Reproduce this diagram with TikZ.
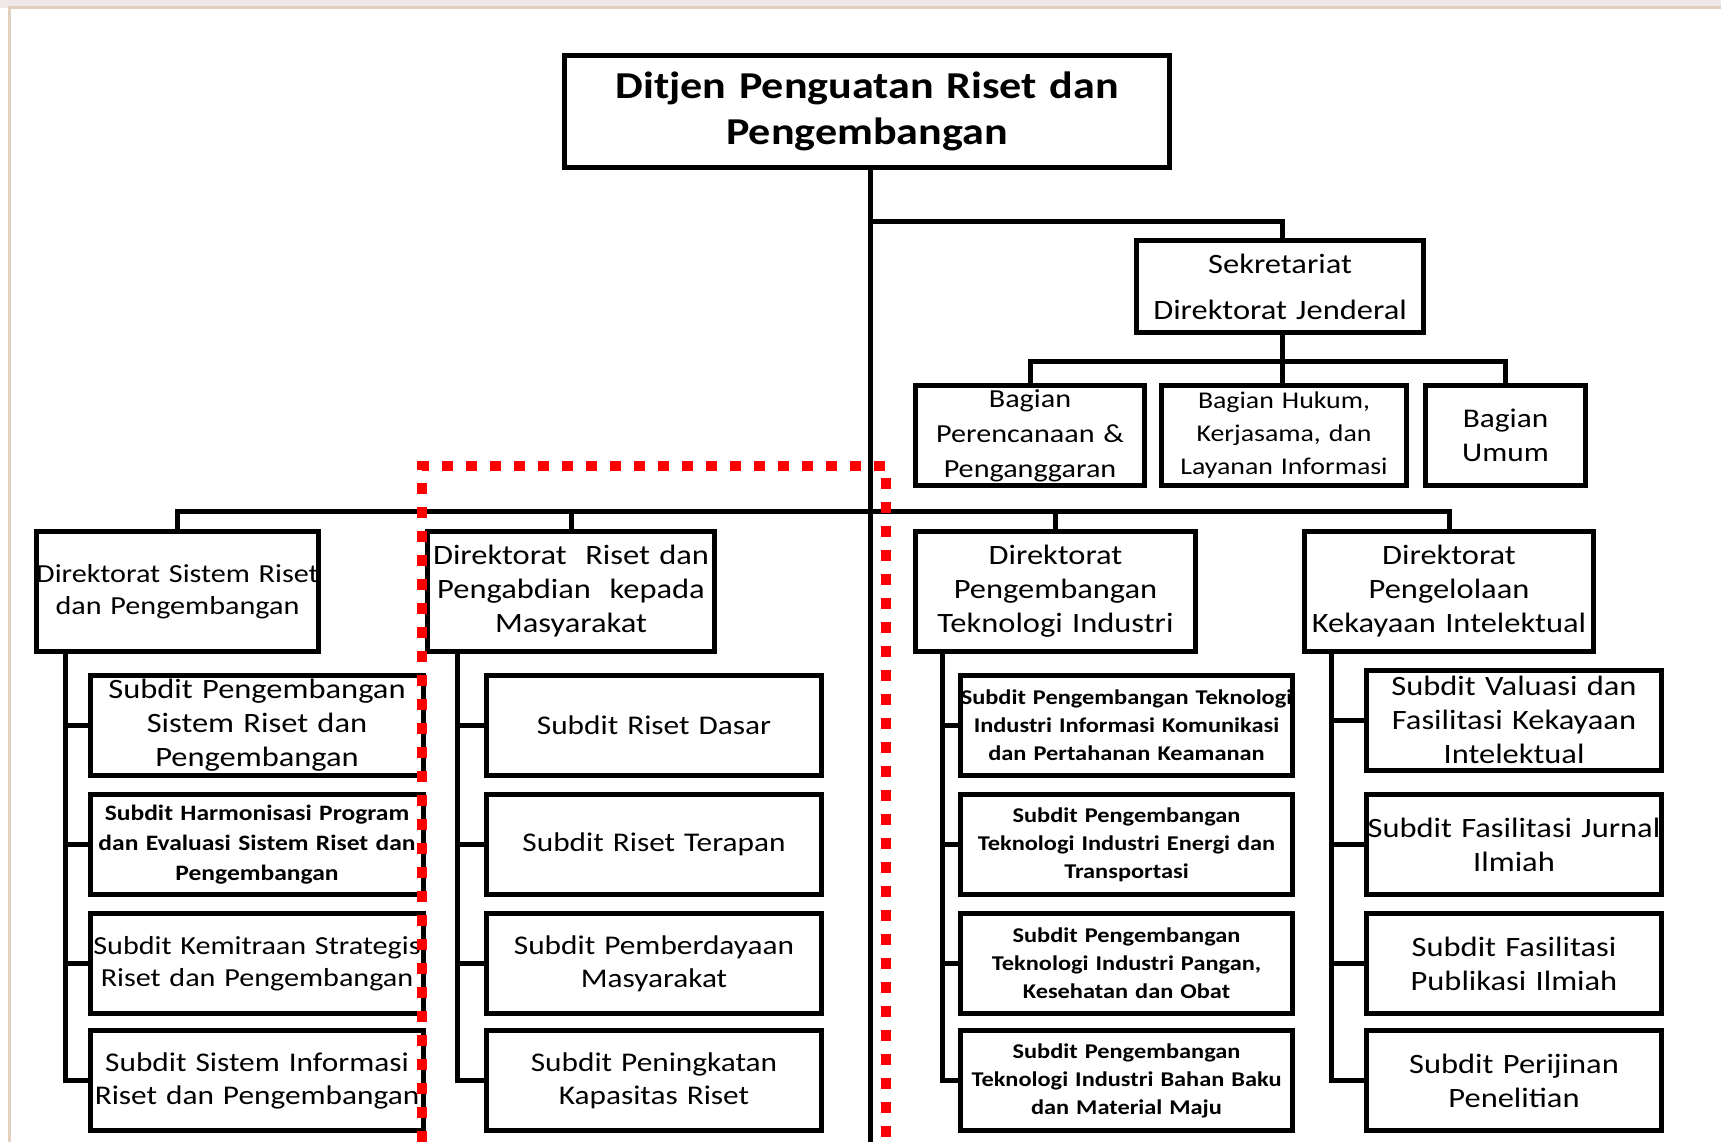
\documentclass[tikz,border=0pt]{standalone}
\usepackage{fontspec}
\setmainfont{Carlito}[FakeStretch=1.16]
\usepackage{tikz}
\usepackage{xcolor}
\usetikzlibrary{positioning}

\definecolor{dotred}{RGB}{255,0,0}
\definecolor{framecol}{RGB}{226,208,190}
\definecolor{bandcol}{RGB}{238,232,232}

\newcommand{\fitline}[1]{\makebox[0pt]{#1}}

\tikzset{
  box/.style={draw, line width=5pt, inner sep=0pt, align=center, fill=white},
  boxw/.style={minimum width=#1, text width=#1},
  link/.style={line width=5pt},
  fbig/.style={font=\fontsize{38}{46}\selectfont\bfseries},
  fmid/.style={font=\fontsize{28}{34}\selectfont},
  fsmall/.style={font=\fontsize{21}{28}\selectfont\bfseries},
  subrow/.style={box, minimum height=100pt},
}

\begin{document}
\begin{tikzpicture}[x=1pt,y=1pt,yscale=-1]
\useasboundingbox (0,0) rectangle (1721,1142);
%frame of the slide
\fill[bandcol] (0,0) rectangle (1721,8);
\draw[framecol, line width=3pt] (9,1142) -- (9,8) -- (1721,8);

% Top
\node[box, fbig, boxw=605pt, minimum height=112pt] (top) at (867,111.5) {Ditjen Penguatan Riset dan\\Pengembangan};
\node[box, fmid, boxw=287pt, minimum height=92pt] (sek) at (1280,286.5) {Sekretariat\\[12pt]Direktorat Jenderal};
\node[box, fmid, font=\fontsize{26}{35}\selectfont, boxw=229pt, minimum height=100pt] (bag1) at (1030,435.5) {Bagian\\Perencanaan \&\\Penganggaran};
\node[box, fmid, font=\fontsize{24}{33}\selectfont, boxw=245pt, minimum height=100pt] (bag2) at (1284,435.5) {Bagian Hukum,\\Kerjasama, dan\\Layanan Informasi};
\node[box, fmid, font=\fontsize{27}{34}\selectfont, boxw=160pt, minimum height=100pt] (bag3) at (1505.5,435.5) {Bagian\\Umum};

% Direktorat
\node[box, fmid, font=\fontsize{26}{32}\selectfont, boxw=282pt, minimum height=120pt] (dir1) at (177.5,591.5) {\fitline{Direktorat Sistem Riset}\\dan Pengembangan};
\node[box, fmid, boxw=287pt, minimum height=120pt] (dir2) at (571,591.5) {Direktorat~ Riset dan\\Pengabdian~ kepada\\Masyarakat};
\node[box, fmid, boxw=280pt, minimum height=120pt] (dir3) at (1055.5,591.5) {Direktorat\\Pengembangan\\Teknologi Industri};
\node[box, fmid, boxw=289pt, minimum height=120pt] (dir4) at (1449,591.5) {Direktorat\\Pengelolaan\\\fitline{Kekayaan Intelektual}};

% Subdit, column 1
\node[subrow, fmid, boxw=333pt] (a1) at (257,725.5) {Subdit Pengembangan\\Sistem Riset dan\\Pengembangan};
\node[subrow, fsmall, font=\fontsize{22}{30}\selectfont\bfseries, boxw=333pt] (a2) at (257,844.5) {Subdit Harmonisasi Program\\\fitline{dan Evaluasi Sistem Riset dan}\\Pengembangan};
\node[subrow, fmid, font=\fontsize{26}{32}\selectfont, boxw=333pt] (a3) at (257,963.5) {\fitline{Subdit Kemitraan Strategis}\\Riset dan Pengembangan};
\node[subrow, fmid, font=\fontsize{27}{33}\selectfont, boxw=333pt] (a4) at (257,1080.5) {Subdit Sistem Informasi\\\fitline{Riset dan Pengembangan}};
% Subdit, column 2
\node[subrow, fmid, font=\fontsize{27}{33}\selectfont, boxw=335pt] (b1) at (654,725.5) {Subdit Riset Dasar};
\node[subrow, fmid, font=\fontsize{27}{33}\selectfont, boxw=335pt] (b2) at (654,844.5) {Subdit Riset Terapan};
\node[subrow, fmid, font=\fontsize{27}{33}\selectfont, boxw=335pt] (b3) at (654,963.5) {Subdit Pemberdayaan\\Masyarakat};
\node[subrow, fmid, font=\fontsize{27}{33}\selectfont, boxw=335pt] (b4) at (654,1080.5) {Subdit Peningkatan\\Kapasitas Riset};
% Subdit, column 3
\node[subrow, fsmall, boxw=332pt] (c1) at (1126.5,725.5) {\fitline{Subdit Pengembangan Teknologi}\\Industri Informasi Komunikasi\\dan Pertahanan Keamanan};
\node[subrow, fsmall, boxw=332pt] (c2) at (1126.5,844.5) {Subdit Pengembangan\\Teknologi Industri Energi dan\\Transportasi};
\node[subrow, fsmall, boxw=332pt] (c3) at (1126.5,963.5) {Subdit Pengembangan\\Teknologi Industri Pangan,\\Kesehatan dan Obat};
\node[subrow, fsmall, boxw=332pt] (c4) at (1126.5,1080.5) {Subdit Pengembangan\\Teknologi Industri Bahan Baku\\dan Material Maju};
% Subdit, column 4
\node[subrow, fmid, boxw=295pt] (d1) at (1514,720) {Subdit Valuasi dan\\Fasilitasi Kekayaan\\Intelektual};
\node[subrow, fmid, boxw=295pt] (d2) at (1514,844.5) {\fitline{Subdit Fasilitasi Jurnal}\\Ilmiah};
\node[subrow, fmid, boxw=295pt] (d3) at (1514,963.5) {Subdit Fasilitasi\\Publikasi Ilmiah};
\node[subrow, fmid, boxw=295pt] (d4) at (1514,1080.5) {Subdit Perijinan\\Penelitian};

% Lines
\coordinate (trunk) at (870,1142);
\coordinate (sekbar) at (870,222);
\coordinate (bagbar) at (1282,361);
\coordinate (dirbar) at (870,511);
\draw[link] (top.south -| trunk) -- (trunk);
\draw[link] (sekbar) -| (bagbar |- sek.north);
\draw[link] (bagbar |- sek.south) -- (bagbar |- bag2.north);
\draw[link] (bag1.north) |- (bagbar) -| (bag3.north);
\draw[link] (dir1.north) |- (dirbar) -| (dir4.north);
\draw[link] (dir2.north) -- (dir2.north |- dirbar);
\draw[link] (dir3.north) -- (dir3.north |- dirbar);
\foreach \d/\s/\dx in {dir1/a/31, dir2/b/32, dir3/c/29, dir4/d/29}{
  \draw[link] (\d.south west) ++(\dx,0) coordinate (\s0) -- (\s0 |- \s4.west) -- (\s4.west);
  \foreach \r in {1,2,3}
    \draw[link] (\s0 |- \s\r.west) -- (\s\r.west);
}

% dotted frame
\draw[dotred, line width=10pt, dash pattern=on 11pt off 13pt] (422,1142) -- (422,466) -- (886,466) -- (886,1142);
\end{tikzpicture}
\end{document}
